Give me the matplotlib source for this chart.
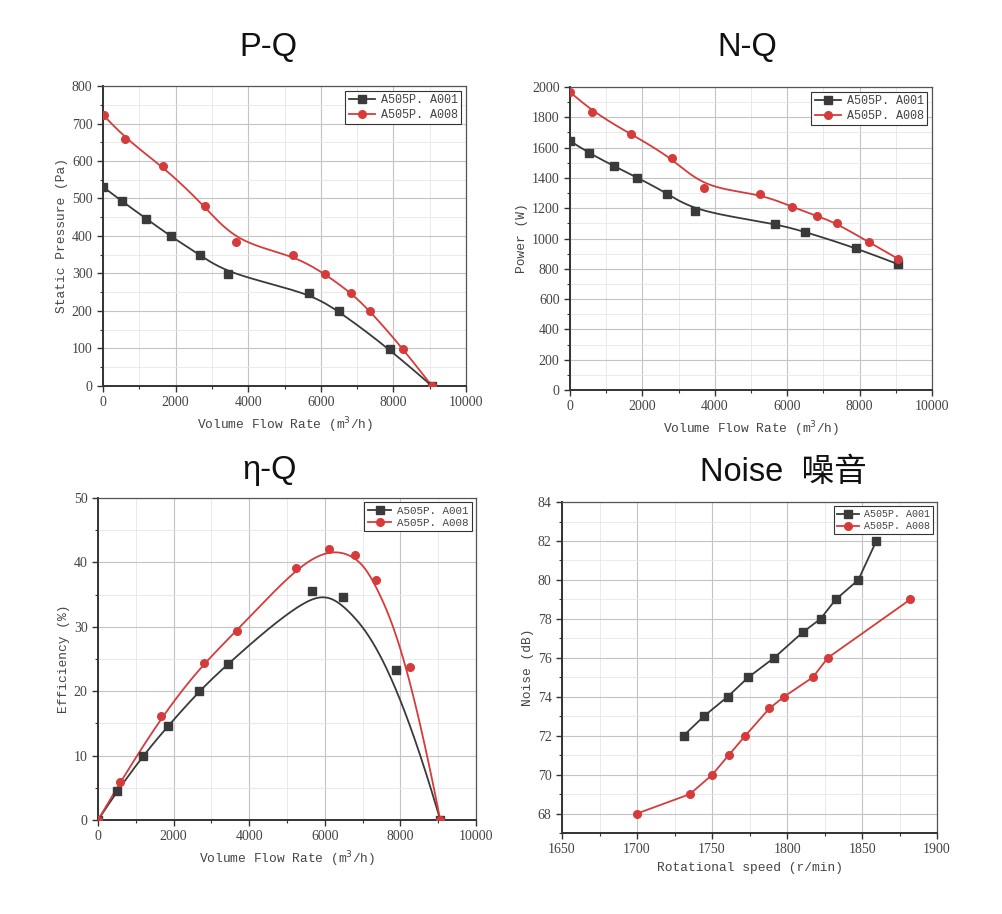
import numpy as np
import matplotlib
matplotlib.use("Agg")
import matplotlib.pyplot as plt
from matplotlib.ticker import MultipleLocator

# ---------------- data ----------------
series_names = ["A505P. A001", "A505P. A008"]

pq_q_001 = [0, 515, 1195, 1866, 2675, 3447, 5662, 6498, 7895, 9060]
pq_p_001 = [531, 493, 446, 399, 349, 299, 249, 200, 99, 0]
pq_q_008 = [18, 597, 1654, 2803, 3676, 5239, 6112, 6820, 7362, 8272, 9060]
pq_p_008 = [722, 660, 587, 479, 383, 349, 299, 249, 200, 99, 0]

nq_q_001 = [0, 525, 1207, 1862, 2691, 3447, 5659, 6498, 7899, 9051]
nq_n_001 = [1644, 1563, 1479, 1402, 1297, 1180, 1099, 1044, 938, 831]
nq_q_008 = [0, 608, 1677, 2820, 3687, 5235, 6129, 6820, 7373, 8267, 9060]
nq_n_008 = [1967, 1837, 1690, 1532, 1334, 1297, 1209, 1149, 1101, 974, 866]

eq_q_001 = [0, 503, 1182, 1861, 2681, 3439, 5653, 6490, 7892, 9056]
eq_e_001 = [0, 4.46, 9.95, 14.66, 20.05, 24.3, 35.6, 34.6, 23.37, 0]
eq_q_008 = [0, 591, 1667, 2804, 3677, 5238, 6111, 6808, 7363, 8263, 9056]
eq_e_008 = [0, 5.9, 16.1, 24.4, 29.4, 39.2, 42.1, 41.1, 37.2, 23.7, 0]

ns_r_001 = [1731, 1744.6, 1760.4, 1774.2, 1791.4, 1810.3, 1822.3, 1832.5, 1847.5, 1859.5]
ns_d_001 = [72.0, 73.0, 74.0, 75.0, 76.0, 77.3, 78.0, 79.0, 80.0, 82.0]
ns_r_008 = [1700, 1735.3, 1750.2, 1761.1, 1772.2, 1788.2, 1798.0, 1817.2, 1827.2, 1882.2]
ns_d_008 = [68.0, 69.0, 70.0, 71.0, 72.0, 73.4, 74.0, 75.0, 76.0, 79.0]

titles = ["P-Q", "N-Q", "η-Q", "Noise  噪音"]

# ---------------- style ----------------
BLACK = "#3a3a3a"
RED = "#d63b3b"
TXT = "#444444"
TICKFONT = "Liberation Serif"
LABFONT = "Liberation Mono"


def bspline(xs, ys, n=300):
    """Clamped cubic B-spline using the points as control points."""
    P = np.column_stack([xs, ys]).astype(float)
    m = len(P)
    k = 3
    inner = np.linspace(0, 1, m - k + 1)
    knots = np.concatenate([[0] * k, inner, [1] * k])
    t = np.linspace(0, 1, n)
    t[-1] = 1 - 1e-12
    N = np.zeros((n, len(knots) - 1))
    for i in range(len(knots) - 1):
        N[:, i] = np.where((knots[i] <= t) & (t < knots[i + 1]), 1.0, 0.0)
    for d in range(1, k + 1):
        Nn = np.zeros((n, len(knots) - 1 - d))
        for i in range(len(knots) - 1 - d):
            a = np.zeros(n)
            b = np.zeros(n)
            den1 = knots[i + d] - knots[i]
            den2 = knots[i + d + 1] - knots[i + 1]
            if den1 > 0:
                a = (t - knots[i]) / den1 * N[:, i]
            if den2 > 0:
                b = (knots[i + d + 1] - t) / den2 * N[:, i + 1]
            Nn[:, i] = a + b
        N = Nn
    C = N @ P
    return C[:, 0], C[:, 1]


fig = plt.figure(figsize=(10.02, 9.14), dpi=100)

positions = [
    [0.1028, 0.5777, 0.3623, 0.3282],
    [0.5689, 0.5733, 0.3613, 0.3315],
    [0.0978, 0.1028, 0.3772, 0.3523],
    [0.5609, 0.0886, 0.3743, 0.3621],
]
title_xy = [(268, 48), (747, 48), (270, 470), (783, 473)]


def style_axes(ax, xlim, ylim, xmaj, xmin, ymaj, ymin, xlabel, ylabel):
    ax.set_xlim(*xlim)
    ax.set_ylim(*ylim)
    ax.xaxis.set_major_locator(MultipleLocator(xmaj))
    ax.xaxis.set_minor_locator(MultipleLocator(xmin))
    ax.yaxis.set_major_locator(MultipleLocator(ymaj))
    ax.yaxis.set_minor_locator(MultipleLocator(ymin))
    ax.grid(which="major", color="#c4c4c4", lw=0.8)
    ax.grid(which="minor", color="#e6e6e6", lw=0.6)
    ax.set_axisbelow(True)
    ax.tick_params(which="major", direction="out", length=4, width=1.0,
                   color="#333333", labelcolor=TXT, labelsize=10)
    ax.tick_params(which="minor", direction="out", length=2.5, width=0.8,
                   color="#333333")
    for lab in ax.get_xticklabels() + ax.get_yticklabels():
        lab.set_fontfamily(TICKFONT)
    for s in ["left", "bottom"]:
        ax.spines[s].set_linewidth(1.4)
        ax.spines[s].set_color("#333333")
    for s in ["top", "right"]:
        ax.spines[s].set_linewidth(0.9)
        ax.spines[s].set_color("#555555")
    ax.set_xlabel(xlabel, fontfamily=LABFONT, fontsize=9.3, color=TXT, labelpad=4)
    ax.set_ylabel(ylabel, fontfamily=LABFONT, fontsize=9.3, color=TXT, labelpad=3)


def add_legend(ax, handles, size=8.5):
    leg = ax.legend(handles=handles, labels=series_names, loc="upper right",
                    fancybox=False, framealpha=1, edgecolor="#333333",
                    prop={"family": LABFONT, "size": size}, borderpad=0.3,
                    handlelength=2.2, labelspacing=0.2, borderaxespad=0.4,
                    handletextpad=0.5)
    leg.get_frame().set_linewidth(0.8)
    for t in leg.get_texts():
        t.set_color(TXT)


def plot_smooth(ax, x, y, color, marker):
    cx, cy = bspline(x, y)
    ax.plot(cx, cy, color=color, lw=1.3, zorder=3)
    ax.plot(x, y, ls="none", marker=marker, color=color, ms=5.5, zorder=4)
    h, = ax.plot([], [], color=color, lw=1.3, marker=marker, ms=5.5)
    return h


axs = [fig.add_axes(p) for p in positions]

# P-Q
ax = axs[0]
h1 = plot_smooth(ax, pq_q_001, pq_p_001, BLACK, "s")
h2 = plot_smooth(ax, pq_q_008, pq_p_008, RED, "o")
style_axes(ax, (0, 10000), (0, 800), 2000, 1000, 100, 50,
           "Volume Flow Rate (m$^3$/h)", "Static Pressure (Pa)")
add_legend(ax, [h1, h2])

# N-Q
ax = axs[1]
h1 = plot_smooth(ax, nq_q_001, nq_n_001, BLACK, "s")
h2 = plot_smooth(ax, nq_q_008, nq_n_008, RED, "o")
style_axes(ax, (0, 10000), (0, 2000), 2000, 1000, 200, 100,
           "Volume Flow Rate (m$^3$/h)", "Power (W)")
add_legend(ax, [h1, h2])

# Efficiency
ax = axs[2]
h1 = plot_smooth(ax, eq_q_001, eq_e_001, BLACK, "s")
h2 = plot_smooth(ax, eq_q_008, eq_e_008, RED, "o")
style_axes(ax, (0, 10000), (0, 50), 2000, 1000, 10, 5,
           "Volume Flow Rate (m$^3$/h)", "Efficiency (%)")
add_legend(ax, [h1, h2], size=7.8)

# Noise
ax = axs[3]
h1, = ax.plot(ns_r_001, ns_d_001, color=BLACK, lw=1.3, marker="s", ms=5.5, zorder=3)
h2, = ax.plot(ns_r_008, ns_d_008, color=RED, lw=1.3, marker="o", ms=5.5, zorder=3)
style_axes(ax, (1650, 1900), (67, 84), 50, 25, 2, 1,
           "Rotational speed (r/min)", "Noise (dB)")
ax.set_yticks([68, 70, 72, 74, 76, 78, 80, 82, 84])
for lab in ax.get_yticklabels():
    lab.set_fontfamily(TICKFONT)
add_legend(ax, [h1, h2], size=7.2)

for (tx, ty), t in zip(title_xy, titles):
    fig.text(tx / 1002, 1 - ty / 914, t, ha="center", va="center",
             fontsize=23.5, color="#111111",
             family=["Liberation Sans", "Noto Sans CJK SC"])

fig.savefig("out.png", dpi=100)
